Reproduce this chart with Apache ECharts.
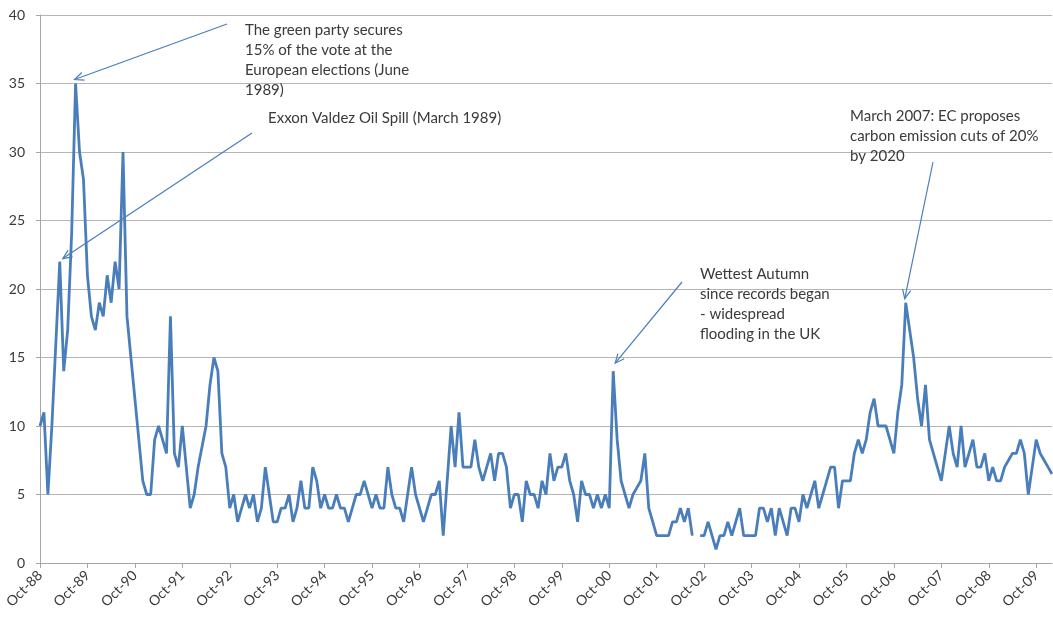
<!DOCTYPE html>
<html>
<head>
<meta charset="utf-8">
<script src="https://cdn.jsdelivr.net/npm/echarts@6.0.0/dist/echarts.min.js"></script>
<style>
html,body{margin:0;padding:0;background:#fff;}
#chart{width:1053px;height:617px;}
</style>
</head>
<body>
<div id="chart"></div>
<script>
// Monthly values, Oct of one year to Sep of the next
const y1988_89 = [10, 11, 5, 10, 16, 22, 14, 17, 24, 35, 30, 28];
const y1989_90 = [21, 18, 17, 19, 18, 21, 19, 22, 20, 30, 18, 15];
const y1990_91 = [12, 9, 6, 5, 5, 9, 10, 9, 8, 18, 8, 7];
const y1991_92 = [10, 7, 4, 5, 7, 8.5, 10, 13, 15, 14, 8, 7];
const y1992_93 = [4, 5, 3, 4, 5, 4, 5, 3, 4, 7, 5, 3];
const y1993_94 = [3, 4, 4, 5, 3, 4, 6, 4, 4, 7, 6, 4];
const y1994_95 = [5, 4, 4, 5, 4, 4, 3, 4, 5, 5, 6, 5];
const y1995_96 = [4, 5, 4, 4, 7, 5, 4, 4, 3, 5, 7, 5];
const y1996_97 = [4, 3, 4, 5, 5, 6, 2, 6, 10, 7, 11, 7];
const y1997_98 = [7, 7, 9, 7, 6, 7, 8, 6, 8, 8, 7, 4];
const y1998_99 = [5, 5, 3, 6, 5, 5, 4, 6, 5, 8, 6, 7];
const y1999_00 = [7, 8, 6, 5, 3, 6, 5, 5, 4, 5, 4, 5];
const y2000_01 = [4, 14, 9, 6, 5, 4, 5, 5.5, 6, 8, 4, 3];
const y2001_02 = [2, 2, 2, 2, 3, 3, 4, 3, 4, 2, null, 2];
const y2002_03 = [2, 3, 2, 1, 2, 2, 3, 2, 3, 4, 2, 2];
const y2003_04 = [2, 2, 4, 4, 3, 4, 2, 4, 3, 2, 4, 4];
const y2004_05 = [3, 5, 4, 5, 6, 4, 5, 6, 7, 7, 4, 6];
const y2005_06 = [6, 6, 8, 9, 8, 9, 11, 12, 10, 10, 10, 9];
const y2006_07 = [8, 11, 13, 19, 17, 15, 12, 10, 13, 9, 8, 7];
const y2007_08 = [6, 8, 10, 8, 7, 10, 7, 8, 9, 7, 7, 8];
const y2008_09 = [6, 7, 6, 6, 7, 7.5, 8, 8, 9, 8, 5, 7];
const y2009_10 = [9, 8, 7.5, 7, 6.5];

const monthNames = ['Jan','Feb','Mar','Apr','May','Jun','Jul','Aug','Sep','Oct','Nov','Dec'];
const startYear = 1988, startMonth = 9; // October 1988

// annotations: text, index of data point the arrow points at
const noteGreen = 'The green party secures\n15% of the vote at the\nEuropean elections (June\n1989)';
const noteExxon = 'Exxon Valdez Oil Spill (March 1989)';
const noteWet = 'Wettest Autumn\nsince records began\n- widespread\nflooding in the UK';
const noteEC = 'March 2007: EC proposes\ncarbon emission cuts of 20%\nby 2020';

const values = [].concat(y1988_89, y1989_90, y1990_91, y1991_92, y1992_93, y1993_94,
  y1994_95, y1995_96, y1996_97, y1997_98, y1998_99, y1999_00, y2000_01, y2001_02,
  y2002_03, y2003_04, y2004_05, y2005_06, y2006_07, y2007_08, y2008_09, y2009_10);

const categories = values.map((v, i) => {
  const m = (startMonth + i) % 12;
  const yr = startYear + Math.floor((startMonth + i) / 12);
  return monthNames[m] + '-' + String(yr % 100).padStart(2, '0');
});

const FONT = 'Lato, "Open Sans", sans-serif';
const chart = echarts.init(document.getElementById('chart'), null, {renderer: 'canvas'});

const option = {
  animation: false,
  backgroundColor: '#ffffff',
  grid: {left: 40, right: 1, top: 15, bottom: 54, containLabel: false, outerBoundsMode: 'none'},
  xAxis: {
    type: 'category',
    data: categories,
    boundaryGap: false,
    axisLine: {lineStyle: {color: '#a6a6a6', width: 1}},
    axisTick: {show: true, length: 5, interval: (i) => i % 12 === 0, lineStyle: {color: '#a6a6a6'}},
    axisLabel: {
      interval: (i) => i % 12 === 0,
      rotate: 45, margin: 10, fontSize: 14, color: '#3a3a3a', fontFamily: FONT
    },
    splitLine: {show: false}
  },
  yAxis: {
    type: 'value', min: 0, max: 40, interval: 5,
    axisLine: {show: true, lineStyle: {color: '#a6a6a6', width: 1}},
    axisTick: {show: true, length: 4, lineStyle: {color: '#a6a6a6'}},
    axisLabel: {fontSize: 14, color: '#3a3a3a', margin: 15, fontFamily: FONT},
    splitLine: {show: true, lineStyle: {color: '#b5b5b5', width: 1}}
  },
  series: [{
    type: 'line',
    data: values,
    showSymbol: false,
    connectNulls: false,
    lineStyle: {color: '#4a7ebb', width: 2.8},
    itemStyle: {color: '#4a7ebb'}
  }]
};
chart.setOption(option);

function arrow(x1, y1, x2, y2) {
  const ang = Math.atan2(y2 - y1, x2 - x1);
  const L = 10, spread = 0.42;
  const a1 = [x2 - L * Math.cos(ang - spread), y2 - L * Math.sin(ang - spread)];
  const a2 = [x2 - L * Math.cos(ang + spread), y2 - L * Math.sin(ang + spread)];
  return [
    {type: 'line', shape: {x1: x1, y1: y1, x2: x2, y2: y2}, style: {stroke: '#4a7ebb', lineWidth: 1.2}, z: 50},
    {type: 'polyline', shape: {points: [a1, [x2, y2], a2]}, style: {stroke: '#4a7ebb', lineWidth: 1.2, fill: null}, z: 50}
  ];
}
function tip(idx, dx, dy) {
  const p = chart.convertToPixel({seriesIndex: 0}, [idx, values[idx]]);
  return [p[0] + dx, p[1] + dy];
}
function label(txt, x, y) {
  return {type: 'text', x: x, y: y, z: 60,
    style: {text: txt, fill: '#3a3a3a', font: '15px ' + FONT, lineHeight: 20, textVerticalAlign: 'top', textAlign: 'left'}};
}

const tGreen = tip(9, -1, -4);
const tExxon = tip(5, 3, -3);
const tWet = tip(145, 2, -8);
const tEC = tip(219, -1, -4);

const graphics = [].concat(
  [label(noteGreen, 245, 20)], arrow(227, 24, tGreen[0], tGreen[1]),
  [label(noteExxon, 268, 108)], arrow(252, 133, tExxon[0], tExxon[1]),
  [label(noteWet, 700, 264)], arrow(682, 282, tWet[0], tWet[1]),
  [label(noteEC, 850, 106)], arrow(933, 162, tEC[0], tEC[1])
);
chart.setOption({graphic: graphics});
</script>
</body>
</html>
